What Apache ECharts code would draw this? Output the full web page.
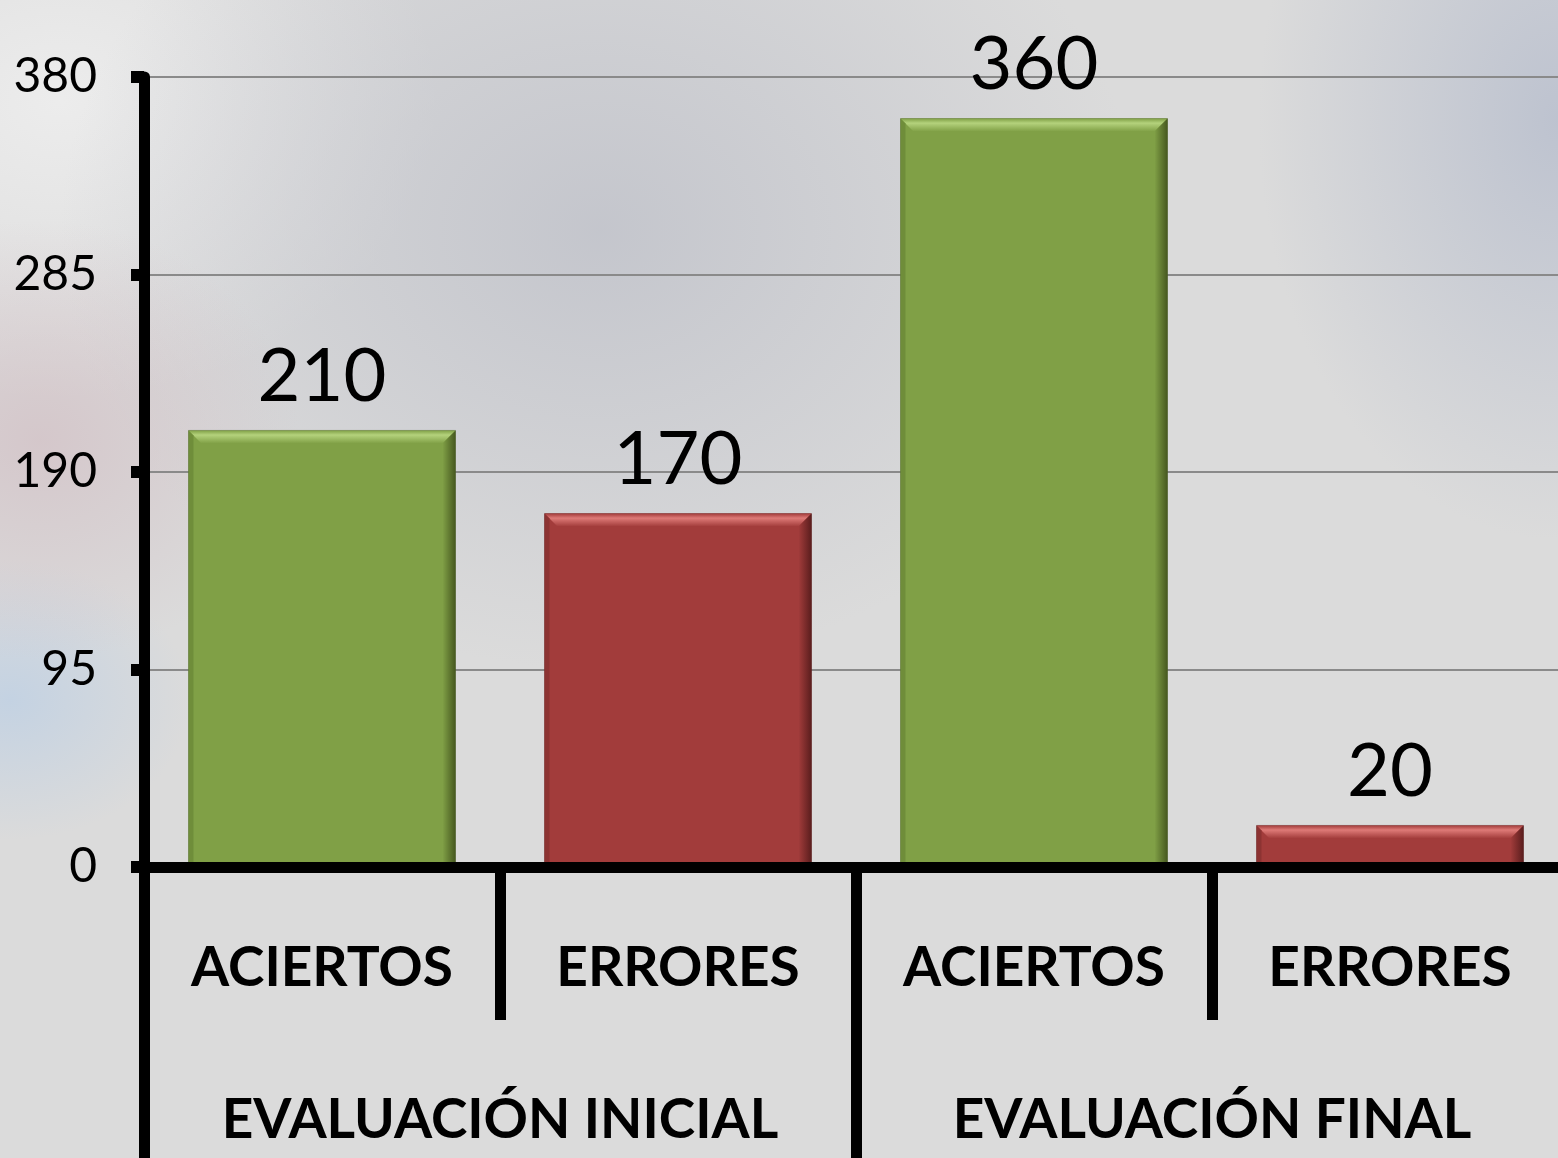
<!DOCTYPE html>
<html>
<head>
<meta charset="utf-8">
<title>Evaluación inicial / final</title>
<script src="https://cdn.jsdelivr.net/npm/echarts@6/dist/echarts.min.js"></script>
<style>
    html, body { margin: 0; padding: 0; width: 1558px; height: 1158px; overflow: hidden; }
    body {
        /* fondo difuminado tipo foto */
        background:
            radial-gradient(ellipse 260px 220px at 40px 440px, rgba(208, 186, 192, 0.6), rgba(208, 186, 192, 0) 100%),
            radial-gradient(ellipse 180px 140px at 10px 700px, rgba(190, 208, 228, 0.8), rgba(190, 208, 228, 0) 100%),
            radial-gradient(ellipse 540px 440px at 600px 230px, rgba(192, 194, 202, 0.85), rgba(192, 194, 202, 0) 100%),
            radial-gradient(ellipse 300px 420px at 1558px 120px, rgba(186, 192, 206, 0.9), rgba(186, 192, 206, 0) 100%),
            radial-gradient(ellipse 380px 300px at 60px 100px, rgba(238, 238, 238, 0.9), rgba(238, 238, 238, 0) 100%),
            #dbdbdb;
    }
    #chart { width: 1558px; height: 1158px; }
</style>
</head>
<body>
<div id="chart"></div>
<script>
// 数据
var categories = ['ACIERTOS', 'ERRORES', 'ACIERTOS', 'ERRORES'];
var values = [210, 170, 360, 20];
var groups = ['EVALUACIÓN INICIAL', 'EVALUACIÓN FINAL'];
var yMin = 0;
var yMax = 380;
var yStep = 95;

var FONT = 'Lato';

// 斜面柱条颜色: ACIERTOS 绿色, ERRORES 红色
var palette = {
    ACIERTOS: { base: '#80A046', light: '#B4D27C', dark: '#46581F', side: '#6F8D3A' },
    ERRORES: { base: '#A23C3B', light: '#DE7A77', dark: '#5A1D1D', side: '#8C3332' }
};

function renderBar(params, api) {
    var idx = api.value(0);
    var val = api.value(1);
    var top = api.coord([idx, val]);
    var base = api.coord([idx, 0]);
    var band = api.size([1, 0])[0];
    var w = band * 0.75;
    var x = top[0] - w / 2;
    var y = top[1];
    var h = base[1] - top[1];
    var b = Math.min(13, h / 2); // bevel size
    var c = palette[categories[idx]];

    return {
        type: 'group',
        children: [
            {
                type: 'rect',
                shape: { x: x, y: y, width: w, height: h },
                style: { fill: c.base, stroke: 'rgba(0,0,0,0.25)', lineWidth: 1 }
            },
            // top bevel
            {
                type: 'polygon',
                shape: { points: [[x, y], [x + w, y], [x + w - b, y + b], [x + b, y + b]] },
                style: {
                    fill: new echarts.graphic.LinearGradient(0, 0, 0, 1, [
                        { offset: 0, color: c.base },
                        { offset: 0.35, color: c.light },
                        { offset: 1, color: c.base }
                    ])
                }
            },
            // right bevel
            {
                type: 'polygon',
                shape: { points: [[x + w, y], [x + w, y + h], [x + w - b, y + h], [x + w - b, y + b]] },
                style: {
                    fill: new echarts.graphic.LinearGradient(0, 0, 1, 0, [
                        { offset: 0, color: c.base },
                        { offset: 1, color: c.dark }
                    ])
                }
            },
            // left edge
            {
                type: 'polygon',
                shape: { points: [[x, y], [x + 5, y + 5], [x + 5, y + h], [x, y + h]] },
                style: { fill: c.side }
            },
            // value label
            {
                type: 'text',
                style: {
                    text: String(val),
                    x: top[0],
                    y: y - 16,
                    align: 'center',
                    verticalAlign: 'bottom',
                    fontSize: 74,
                    fontFamily: FONT,
                    fill: '#000'
                }
            }
        ]
    };
}

var myChart = echarts.init(document.getElementById('chart'));

var option = {
    animation: false,
    backgroundColor: 'transparent',
    textStyle: { fontFamily: FONT },
    grid: {
        left: 144,
        right: -10,
        top: 77,
        bottom: 291,
        containLabel: false,
        outerBoundsMode: 'none'
    },
    xAxis: [
        {
            type: 'category',
            position: 'bottom',
            data: categories,
            z: 10,
            axisLine: { show: true, lineStyle: { color: '#000', width: 11 } },
            axisTick: { show: true, length: 153, lineStyle: { color: '#000', width: 11 } },
            axisLabel: {
                color: '#000',
                fontSize: 55,
                fontWeight: 'bold',
                fontFamily: FONT,
                margin: 74,
                interval: 0
            },
            splitLine: { show: false }
        },
        {
            type: 'category',
            position: 'bottom',
            data: groups,
            z: 10,
            axisLine: { show: false },
            axisTick: { show: true, length: 300, lineStyle: { color: '#000', width: 11 } },
            axisLabel: {
                color: '#000',
                fontSize: 55,
                fontWeight: 'bold',
                fontFamily: FONT,
                margin: 226,
                interval: 0
            },
            splitLine: { show: false }
        }
    ],
    yAxis: {
        type: 'value',
        min: yMin,
        max: yMax,
        interval: yStep,
        axisLine: { show: true, lineStyle: { color: '#000', width: 11 } },
        axisTick: { show: true, length: 13, lineStyle: { color: '#000', width: 12 } },
        axisLabel: {
            color: '#000',
            fontSize: 48,
            fontFamily: FONT,
            margin: 47
        },
        splitLine: { show: true, lineStyle: { color: '#8A8A8A', width: 2 } }
    },
    series: [
        {
            type: 'custom',
            xAxisIndex: 0,
            yAxisIndex: 0,
            z: 2,
            renderItem: renderBar,
            encode: { x: 0, y: 1 },
            data: values.map(function (v, i) { return [i, v]; })
        }
    ]
};

myChart.setOption(option);
</script>
</body>
</html>
